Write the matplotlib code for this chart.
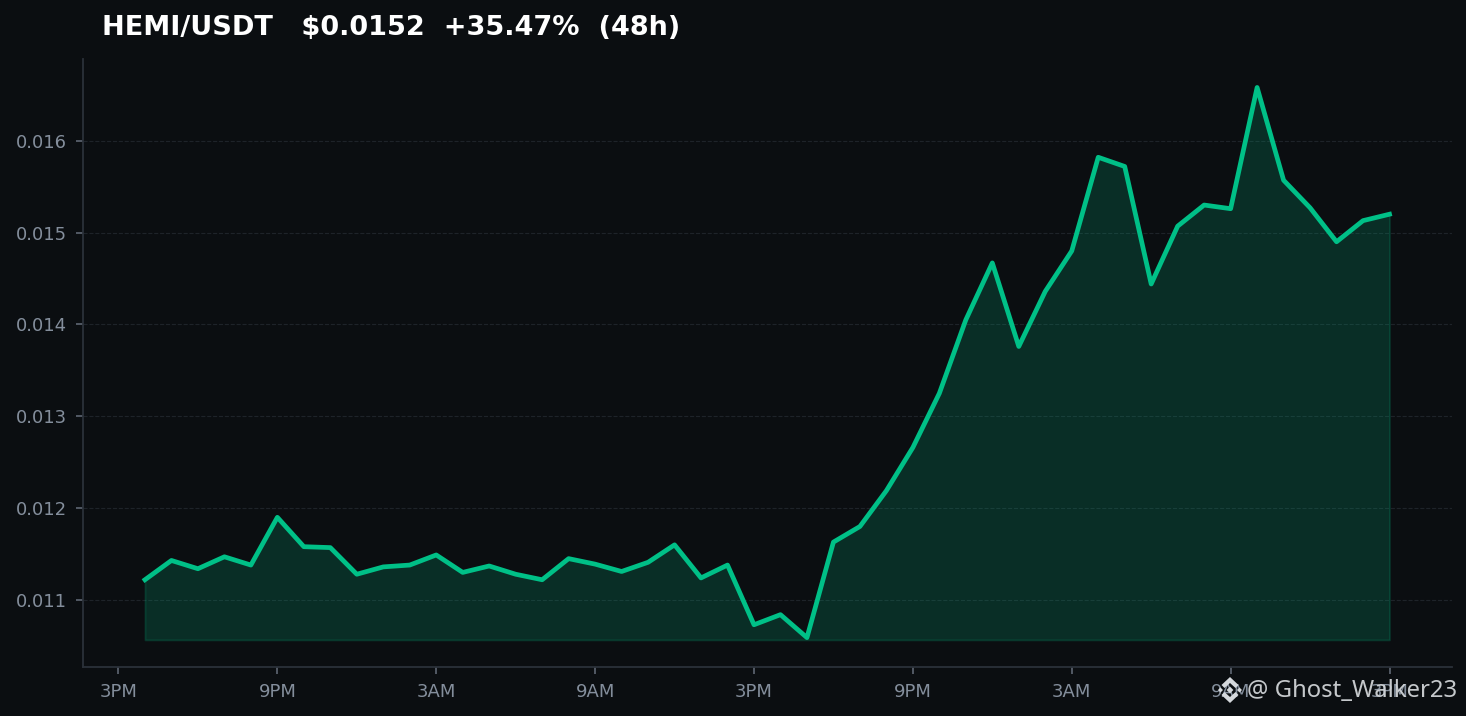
import matplotlib
matplotlib.use('Agg')
import matplotlib.pyplot as plt
from matplotlib.patches import Polygon

# harga per jam, 48 jam terakhir
hours = list(range(1, 49))
prices = [0.01122, 0.01143, 0.01134, 0.01147, 0.01138, 0.01190, 0.01158, 0.01157,
          0.01128, 0.01136, 0.01138, 0.01149, 0.01130, 0.01137, 0.01128, 0.01122,
          0.01145, 0.01139, 0.01131, 0.01141, 0.01160, 0.01124, 0.01138, 0.01073,
          0.01084, 0.01059, 0.01163, 0.01180, 0.01219, 0.01266, 0.01325, 0.01405,
          0.01467, 0.01376, 0.01436, 0.01480, 0.01582, 0.01572, 0.01444, 0.01507,
          0.01530, 0.01526, 0.01658, 0.01557, 0.01527, 0.01490, 0.01513, 0.01520]
fill_base = 0.010565

tick_hours = [0, 6, 12, 18, 24, 30, 36, 42, 48]
tick_labels = ['3PM', '9PM', '3AM', '9AM', '3PM', '9PM', '3AM', '9AM', '3PM']
y_ticks = [0.011, 0.012, 0.013, 0.014, 0.015, 0.016]

BG = '#0b0e11'
GREEN = '#00c087'
SPINE = '#2b3139'
TEXT = '#848e9c'
W, H = 1466, 716

fig = plt.figure(figsize=(W / 100, H / 100), dpi=100, facecolor=BG)
ax = fig.add_axes([83 / W, 1 - 667 / H, (1452 - 83) / W, (667 - 59) / H], facecolor=BG)

ax.fill_between(hours, prices, fill_base, facecolor=GREEN, edgecolor=GREEN, alpha=0.18, linewidth=1.3)
ax.plot(hours, prices, color=GREEN, linewidth=3.4, zorder=3)

ax.set_xlim(-1.34, 50.36)
ax.set_ylim(0.01027, 0.01689)
ax.set_xticks(tick_hours)
ax.set_xticklabels(tick_labels)
ax.set_yticks(y_ticks)
ax.set_yticklabels([f'{v:.3f}' for v in y_ticks])
ax.tick_params(colors=TEXT, labelsize=13, length=5, width=1.2, pad=6.5)
ax.tick_params(axis='x', color='#5e6673')
ax.tick_params(axis='y', color='#5e6673')
ax.grid(axis='y', color='#1e2329', linestyle='--', linewidth=0.8)
ax.set_axisbelow(True)

ax.spines['top'].set_visible(False)
ax.spines['right'].set_visible(False)
ax.spines['left'].set_color(SPINE)
ax.spines['bottom'].set_color(SPINE)
ax.spines['left'].set_linewidth(1.3)
ax.spines['bottom'].set_linewidth(1.3)

fig.text(102 / W, 1 - 28 / H, 'HEMI/USDT   $0.0152  +35.47%  (48h)',
         color='white', fontsize=19.5, fontweight='bold', va='center', ha='left')

# watermark
fig.text(1247 / W, 1 - 691 / H, '@ Ghost_Walker23', color='#d0d3d6', fontsize=17.2,
         family='Noto Sans', va='center', ha='left', alpha=0.95)


def diamond(cx, cy, r):
    return [(cx - r, cy), (cx, cy - r), (cx + r, cy), (cx, cy + r)]


logo = [diamond(1230, 690, 3.4), diamond(1220.5, 690, 2.5), diamond(1239.5, 690, 2.5),
        [(1230, 677), (1238.5, 685), (1235.5, 688), (1230, 683), (1224.5, 688), (1221.5, 685)],
        [(1230, 703), (1238.5, 695), (1235.5, 692), (1230, 697), (1224.5, 692), (1221.5, 695)]]
for pts in logo:
    fig.add_artist(Polygon([(x / W, 1 - y / H) for x, y in pts], closed=True,
                           transform=fig.transFigure, facecolor='#d5d8dc', edgecolor='none'))

fig.savefig('out.png', dpi=100, facecolor=BG)
